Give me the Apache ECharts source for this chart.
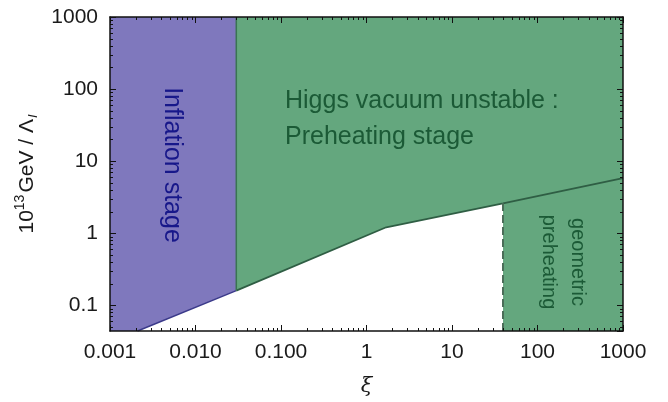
<!DOCTYPE html>
<html>
<head>
<meta charset="utf-8">
<script src="https://cdn.jsdelivr.net/npm/echarts@6/dist/echarts.min.js"></script>
<style>
  html, body { margin: 0; padding: 0; background: #fff; }
  #chart { width: 668px; height: 402px; }
</style>
</head>
<body>
<div id="chart"></div>
<script>
// boundary of the preheating region (lower edge)
var boundaryXi = [0.0021, 0.03, 1.7, 39.5, 1000];
var boundaryLambda = [0.044, 0.16, 1.21, 2.6, 5.8];
var inflationEndXi = 0.03;      // end of inflation stage
var geometricStartXi = 39.5;    // start of geometric preheating
var xiRange = [0.001, 1000];
var lambdaRange = [0.044, 1000];
var xTickLabels = ['0.001', '0.010', '0.100', '1', '10', '100', '1000'];
var yTickLabels = ['0.1', '1', '10', '100', '1000'];

var PURPLE = '#7f78bd', GREEN = '#64a77e';
var font = 'Liberation Sans, Arial, sans-serif';

// polygons made from the arrays above
var inflationPoly = [
    [xiRange[0], lambdaRange[0]], [boundaryXi[0], boundaryLambda[0]],
    [boundaryXi[1], boundaryLambda[1]], [inflationEndXi, lambdaRange[1]],
    [xiRange[0], lambdaRange[1]]
];
var preheatPoly = [];
for (var i = 1; i < boundaryXi.length; i++) preheatPoly.push([boundaryXi[i], boundaryLambda[i]]);
preheatPoly.push([xiRange[1], lambdaRange[1]], [inflationEndXi, lambdaRange[1]]);
var geomPoly = [
    [geometricStartXi, lambdaRange[0]], [boundaryXi[3], boundaryLambda[3]],
    [boundaryXi[4], boundaryLambda[4]], [xiRange[1], lambdaRange[0]]
];

function polySeries(poly, color) {
    return {
        type: 'custom', clip: true, z: 1, silent: true,
        data: poly,
        renderItem: function (params, api) {
            if (params.dataIndex !== 0) return;
            return {
                type: 'polygon',
                shape: { points: poly.map(function (p) { return api.coord(p); }) },
                style: { fill: color, stroke: null }
            };
        }
    };
}

function pairs(xs, ys) {
    return xs.map(function (x, k) { return [x, ys[k]]; });
}

// minor log ticks
var xMinor = [], yMinor = [];
for (var d = -3; d < 3; d++) for (var m = 2; m < 10; m++) xMinor.push(m * Math.pow(10, d));
for (var d2 = -2; d2 < 3; d2++) for (var m2 = 2; m2 < 10; m2++) {
    var v = m2 * Math.pow(10, d2);
    if (v > lambdaRange[0]) yMinor.push(v);
}

var minorSeries = {
    type: 'custom', z: 20, silent: true,
    data: [[xiRange[0], lambdaRange[0]]],
    renderItem: function (params, api) {
        var x0 = api.coord([xiRange[0], lambdaRange[0]]);
        var x1 = api.coord([xiRange[1], lambdaRange[1]]);
        var left = x0[0], bottom = x0[1], right = x1[0], top = x1[1];
        var L = 3, st = { stroke: '#111', lineWidth: 1 };
        var kids = [];
        xMinor.forEach(function (val) {
            var px = Math.round(api.coord([val, lambdaRange[0]])[0]) + 0.5;
            kids.push({ type: 'line', shape: { x1: px, y1: bottom, x2: px, y2: bottom - L }, style: st });
            kids.push({ type: 'line', shape: { x1: px, y1: top, x2: px, y2: top + L }, style: st });
        });
        yMinor.forEach(function (val) {
            var py = Math.round(api.coord([xiRange[0], val])[1]) + 0.5;
            kids.push({ type: 'line', shape: { x1: left, y1: py, x2: left + L, y2: py }, style: st });
            kids.push({ type: 'line', shape: { x1: right, y1: py, x2: right - L, y2: py }, style: st });
        });
        return { type: 'group', children: kids };
    }
};

function xLabel(v) {
    var e = Math.log10(v), r = Math.round(e);
    if (Math.abs(e - r) > 0.01) return '';
    return xTickLabels[r + 3] || '';
}
function yLabel(v) {
    var e = Math.log10(v), r = Math.round(e);
    if (Math.abs(e - r) > 0.01) return '';
    return yTickLabels[r + 1] || '';
}

var axisLine = { show: true, onZero: false, lineStyle: { color: '#111', width: 1.5 } };
var axisTick = { show: true, inside: true, length: 6, lineStyle: { color: '#111', width: 1 } };

var chart = echarts.init(document.getElementById('chart'));
chart.setOption({
    animation: false,
    grid: { left: 110, right: 45, top: 17, bottom: 68 },
    xAxis: [{
        type: 'log', logBase: 10, min: xiRange[0], max: xiRange[1], z: 20,
        position: 'bottom',
        axisLine: axisLine, axisTick: axisTick, splitLine: { show: false },
        axisLabel: { margin: 11, fontSize: 21, fontFamily: font, color: '#1a1a1a', formatter: xLabel },
        name: 'ξ', nameLocation: 'middle', nameGap: 45,
        nameTextStyle: { fontSize: 21, fontStyle: 'italic', fontFamily: 'DejaVu Serif, serif', color: '#1a1a1a' }
    }, {
        type: 'log', logBase: 10, min: xiRange[0], max: xiRange[1], z: 20,
        position: 'top',
        axisLine: axisLine, axisTick: axisTick, splitLine: { show: false },
        axisLabel: { show: false }
    }],
    yAxis: [{
        type: 'log', logBase: 10, min: lambdaRange[0], max: lambdaRange[1], z: 20,
        position: 'left',
        axisLine: axisLine, axisTick: axisTick, splitLine: { show: false },
        axisLabel: { margin: 12, fontSize: 21, fontFamily: font, color: '#1a1a1a', formatter: yLabel, showMinLabel: false }
    }, {
        type: 'log', logBase: 10, min: lambdaRange[0], max: lambdaRange[1], z: 20,
        position: 'right',
        axisLine: axisLine, axisTick: axisTick, splitLine: { show: false },
        axisLabel: { show: false }
    }],
    series: [
        polySeries(inflationPoly, PURPLE),
        polySeries(preheatPoly, GREEN),
        polySeries(geomPoly, GREEN),
        {
            type: 'line', z: 5, symbol: 'none', silent: true,
            data: pairs(boundaryXi.slice(0, 2), boundaryLambda.slice(0, 2)),
            lineStyle: { color: '#3b3a8a', width: 1.5 }
        },
        {
            type: 'line', z: 5, symbol: 'none', silent: true,
            data: pairs(boundaryXi.slice(1), boundaryLambda.slice(1)),
            lineStyle: { color: '#2f5e44', width: 1.8 }
        },
        {
            type: 'line', z: 5, symbol: 'none', silent: true,
            data: [[inflationEndXi, boundaryLambda[1]], [inflationEndXi, lambdaRange[1]]],
            lineStyle: { color: '#3a7452', width: 1.5 }
        },
        {
            type: 'line', z: 5, symbol: 'none', silent: true,
            data: [[geometricStartXi, lambdaRange[0]], [geometricStartXi, boundaryLambda[3]]],
            lineStyle: { color: '#4b6e59', width: 2, type: [8, 4] }
        },
        minorSeries
    ],
    graphic: [
        {
            type: 'text', left: 285, top: 83, z: 30, silent: true,
            style: {
                text: 'Higgs vacuum unstable :\nPreheating stage',
                font: '25px ' + font, fill: '#1b5a36', lineHeight: 36
            }
        },
        {
            type: 'text', x: 172, y: 165, rotation: -Math.PI / 2, z: 30, silent: true,
            style: {
                text: 'Inflation stage', font: '25px ' + font, fill: '#17178a',
                align: 'center', verticalAlign: 'middle'
            }
        },
        {
            type: 'text', x: 563, y: 262, rotation: -Math.PI / 2, z: 30, silent: true,
            style: {
                text: 'geometric\npreheating', font: '20px ' + font, fill: '#1b5a36',
                align: 'center', verticalAlign: 'middle', lineHeight: 29
            }
        },
        {
            type: 'text', x: 27, y: 174, rotation: Math.PI / 2, z: 30, silent: true,
            style: {
                text: '10{sup|13}GeV / Λ{sub|I}',
                font: '21px ' + font, fill: '#1a1a1a',
                align: 'center', verticalAlign: 'middle',
                rich: {
                    sup: { fontSize: 14, fontFamily: font, padding: [0, 2, 14, 0] },
                    sub: { fontSize: 13, fontFamily: font, fontStyle: 'italic', padding: [12, 0, 0, 1] }
                }
            }
        }
    ]
});
</script>
</body>
</html>
